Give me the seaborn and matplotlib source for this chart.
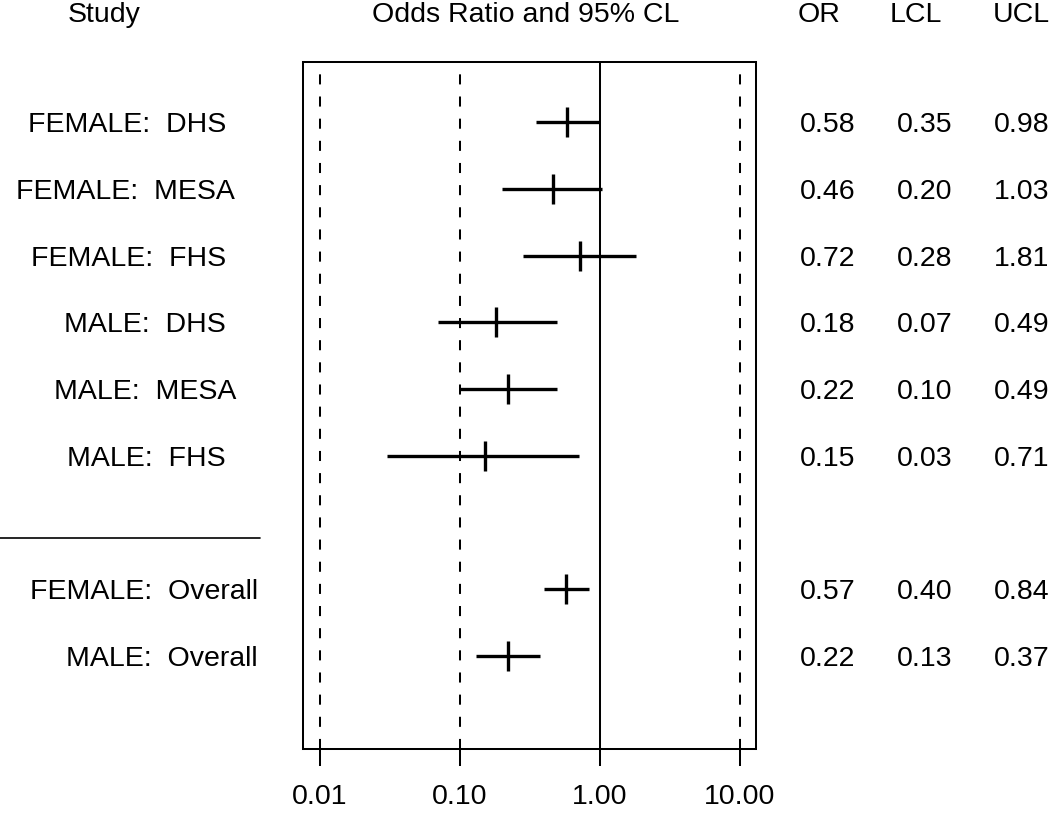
import numpy as np
import pandas as pd
import matplotlib
matplotlib.use('Agg')
import matplotlib.pyplot as plt
import matplotlib.transforms as mtransforms
from matplotlib.ticker import FixedLocator, FixedFormatter, NullLocator
import seaborn as sns

'''
data
'''

sex = ['FEMALE', 'FEMALE', 'FEMALE', 'MALE', 'MALE', 'MALE', 'FEMALE', 'MALE']
study = ['DHS', 'MESA', 'FHS', 'DHS', 'MESA', 'FHS', 'Overall', 'Overall']
odds_ratio = [0.58, 0.46, 0.72, 0.18, 0.22, 0.15, 0.57, 0.22]
lcl = [0.35, 0.20, 0.28, 0.07, 0.10, 0.03, 0.40, 0.13]
ucl = [0.98, 1.03, 1.81, 0.49, 0.49, 0.71, 0.84, 0.37]

x_ticks = [0.01, 0.1, 1, 10]
x_tick_labels = ['0.01', '0.10', '1.00', '10.00']

df = pd.DataFrame({'Sex': sex, 'Study': study, 'OR': odds_ratio,
                   'LCL': lcl, 'UCL': ucl})
df['Label'] = df['Sex'] + ':  ' + df['Study']
# studies on top, a blank row, then the pooled estimates
df['row'] = np.arange(len(df)) + (df['Study'] == 'Overall').astype(int)

'''
plot
'''

W, H = 1050, 813
sns.set_theme(style='white')
plt.rcParams['font.family'] = ['Liberation Sans', 'DejaVu Sans']
plt.rcParams['text.color'] = 'black'
fs = 20.5
lw_box = 1.45

fig = plt.figure(figsize=(W / 100, H / 100), dpi=100)
ax = fig.add_axes([302.7 / W, 1 - 749 / H, (756 - 302.7) / W, (749 - 62) / H])
ax.set_xscale('log')

# reference lines
for x in x_ticks:
    ax.axvline(x, color='black', lw=lw_box, zorder=1,
               ls='-' if x == 1 else (0, (5, 6)))

# confidence intervals + point estimates
ax.hlines(df['row'], df['LCL'], df['UCL'], color='black', lw=2.4, zorder=2)
sns.scatterplot(data=df, x='OR', y='row', marker='|', s=470, color='black',
                linewidth=2.4, ax=ax, zorder=3, legend=False)

ax.set_xlim(10 ** -2.124, 10 ** 1.114)
ax.set_ylim(9.40, -0.904)
ax.xaxis.set_major_locator(FixedLocator(x_ticks))
ax.xaxis.set_major_formatter(FixedFormatter(x_tick_labels))
ax.xaxis.set_minor_locator(NullLocator())
ax.set_yticks([])
ax.tick_params(axis='x', bottom=True, direction='out', length=12.5,
               width=lw_box, color='black', pad=13, labelsize=fs,
               labelcolor='black')
ax.set_xlabel('')
ax.set_ylabel('')
for sp in ax.spines.values():
    sp.set_color('black')
    sp.set_linewidth(lw_box)
ax.grid(False)

# text columns
trans = mtransforms.blended_transform_factory(fig.transFigure, ax.transData)
label_right_px = [226, 235, 226, 226, 236, 226, 258, 258]
for lab, r, xr in zip(df['Label'], df['row'], label_right_px):
    ax.text(xr / W, r, lab, transform=trans, ha='right', va='center_baseline',
            fontsize=fs, clip_on=False)

col_px = {'OR': 828, 'LCL': 925, 'UCL': 1022}
for col, xc in col_px.items():
    for v, r in zip(df[col], df['row']):
        ax.text(xc / W, r, f'{v:.2f}', transform=trans, ha='center',
                va='center_baseline', fontsize=fs, clip_on=False)

# separator between studies and overall
ax.plot([0, 260 / W], [6.237, 6.237], transform=trans, color='black',
        lw=1.2, clip_on=False)

# headers
headers = [('Study', 104), ('Odds Ratio and 95% CL', 526), ('OR', 819),
           ('LCL', 916), ('UCL', 1021)]
for txt, xc in headers:
    fig.text(xc / W, 1 - 22 / H, txt, ha='center', va='baseline', fontsize=fs)

fig.savefig('out.png', dpi=100)
